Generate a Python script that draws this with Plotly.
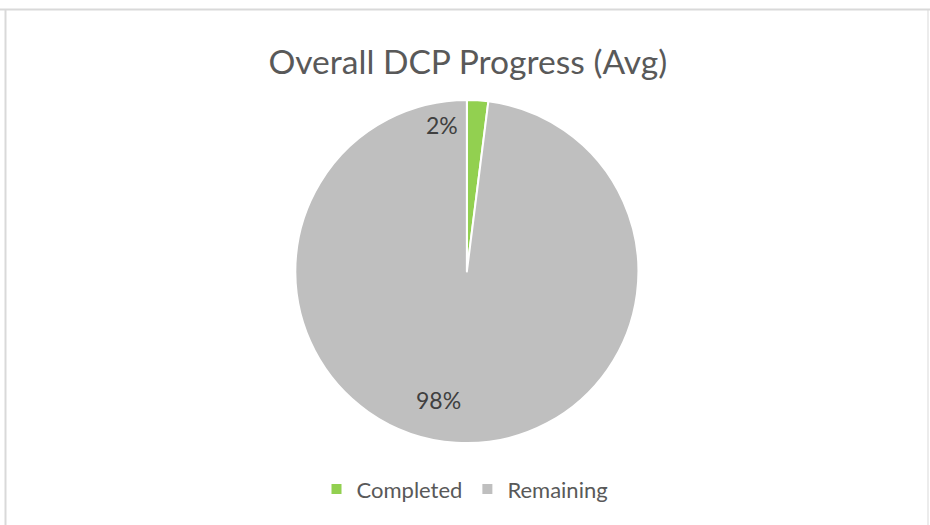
import plotly.graph_objects as go

labels = ["Completed", "Remaining"]
values = [2, 98]
colors = ["#92D050", "#BFBFBF"]
title_text = "Overall DCP Progress (Avg)"

FONT = "Lato"
TXT = "#595959"

fig = go.Figure(go.Pie(
    labels=labels,
    values=values,
    marker=dict(colors=colors, line=dict(color="white", width=2)),
    sort=False,
    direction="clockwise",
    rotation=0,
    textinfo="none",
    hoverinfo="label+percent",
    domain=dict(x=[0.004, 1.0], y=[0.156, 0.8095]),
))

total = sum(values)
label_pos = [(0.475, 0.762), (0.471, 0.238)]
annotations = []
for v, (px, py) in zip(values, label_pos):
    annotations.append(dict(
        x=px, y=py, xref="paper", yref="paper", xanchor="center", yanchor="middle",
        text=f"{round(100 * v / total)}%", showarrow=False,
        font=dict(family=FONT, size=23, color="#404040"),
    ))

fig.update_layout(
    width=930, height=525,
    margin=dict(l=0, r=0, t=0, b=0),
    paper_bgcolor="white",
    plot_bgcolor="white",
    title=dict(text=title_text, x=0.503, xanchor="center", y=0.882, yanchor="middle",
               font=dict(family=FONT, size=33.6, color=TXT)),
    showlegend=True,
    legend=dict(orientation="h", x=0.5, xanchor="center", y=0.068, yanchor="middle",
                font=dict(family=FONT, size=22, color=TXT), itemwidth=30),
    annotations=annotations,
    shapes=[
        dict(type="line", xref="paper", yref="paper", x0=0, x1=1, y0=1 - 9.5 / 525, y1=1 - 9.5 / 525,
             line=dict(color="#D9D9D9", width=2)),
        dict(type="line", xref="paper", yref="paper", x0=5.5 / 930, x1=5.5 / 930, y0=0, y1=1 - 9.5 / 525,
             line=dict(color="#D9D9D9", width=2)),
        dict(type="line", xref="paper", yref="paper", x0=928 / 930, x1=928 / 930, y0=0, y1=1 - 9.5 / 525,
             line=dict(color="#D9D9D9", width=1)),
    ],
)

fig.write_html("out.html", config={"displayModeBar": False},
               post_script="document.body.style.margin='0';document.body.style.overflow='hidden';")
